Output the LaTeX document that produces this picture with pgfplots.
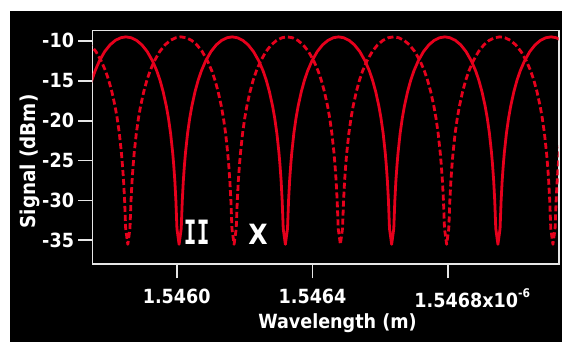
\documentclass[border=0pt]{standalone}
\usepackage{pgfplots}
\pgfplotsset{compat=1.18}
\usepackage{fontspec}
\setmainfont{DejaVu Sans}[BoldFeatures={FakeStretch=0.9}]
\newfontfamily\monofontb{DejaVu Sans Mono}
\definecolor{curvered}{RGB}{230,0,28}
\definecolor{framegray}{RGB}{230,230,230}
\begin{document}
\begin{tikzpicture}
\path[use as bounding box] (0bp,0bp) rectangle (562bp,342bp);
\fill[white] (0bp,0bp) rectangle (562bp,342bp);
\fill[black] (10bp,0bp) rectangle (562bp,331bp);
\begin{axis}[
  at={(92.5bp,77.7bp)}, anchor=south west,
  scale only axis, width=466.2bp, height=233.8bp,
  xmin=-248, xmax=1125, ymin=-38, ymax=-8.7,
  axis line style={framegray, line width=1.8bp},
  tick style={framegray, line width=1.8bp},
  tick align=outside, major tick length=14bp,
  xtick pos=bottom, ytick pos=left,
  xtick={0,400,800},
  xticklabels={1.5460,1.5464,{1.5468\rlap{x10\raisebox{0.5em}{\fontsize{12}{12}\selectfont -6}}}},
  ytick={-35,-30,-25,-20,-15,-10},
  yticklabels={-35,-30,-25,-20,-15,-10},
  ticklabel style={font=\bfseries\fontsize{19.6}{23}\selectfont, text=white},
  yticklabel style={xshift=-1bp},
  xticklabel style={yshift=-7bp},
  clip=true,
]
\addplot[curvered, line width=2.8bp, line join=round] coordinates {
(-268.4,-18.18) (-259.0,-16.36) (-249.7,-14.92) (-240.3,-13.75) (-227.7,-12.51) (-212.1,-11.34) (-196.4,-10.50) (-180.8,-9.94) (-165.1,-9.61) (-149.5,-9.50) (-133.9,-9.61) (-118.2,-9.94) (-102.6,-10.50) (-86.9,-11.34) (-71.3,-12.51) (-58.7,-13.75) (-49.3,-14.92) (-40.0,-16.36) (-30.6,-18.18) (-24.3,-19.70) (-18.0,-21.59) (-11.8,-24.05) (-8.7,-25.61) (-5.5,-27.54) (-2.4,-30.03) (0.7,-33.54)
(7,-35.5) (13.3,-33.54) (16.4,-30.03) (19.5,-27.54) (22.7,-25.61) (25.8,-24.05) (32.0,-21.59) (38.3,-19.70) (44.6,-18.18) (54.0,-16.36) (63.3,-14.92) (72.7,-13.75) (85.3,-12.51) (100.9,-11.34) (116.6,-10.50) (132.2,-9.94) (147.9,-9.61) (163.5,-9.50) (179.1,-9.61) (194.8,-9.94) (210.4,-10.50) (226.1,-11.34) (241.7,-12.51) (254.3,-13.75) (263.7,-14.92) (273.0,-16.36) (282.4,-18.18) (288.7,-19.70) (295.0,-21.59) (301.2,-24.05) (304.3,-25.61) (307.5,-27.54) (310.6,-30.03) (313.7,-33.54)
(320,-35.5) (326.3,-33.54) (329.4,-30.03) (332.5,-27.54) (335.7,-25.61) (338.8,-24.05) (345.0,-21.59) (351.3,-19.70) (357.6,-18.18) (367.0,-16.36) (376.3,-14.92) (385.7,-13.75) (398.3,-12.51) (413.9,-11.34) (429.6,-10.50) (445.2,-9.94) (460.9,-9.61) (476.5,-9.50) (492.1,-9.61) (507.8,-9.94) (523.4,-10.50) (539.1,-11.34) (554.7,-12.51) (567.3,-13.75) (576.7,-14.92) (586.0,-16.36) (595.4,-18.18) (601.7,-19.70) (608.0,-21.59) (614.2,-24.05) (617.3,-25.61) (620.5,-27.54) (623.6,-30.03) (626.7,-33.54)
(633,-35.5) (639.3,-33.54) (642.4,-30.03) (645.5,-27.54) (648.7,-25.61) (651.8,-24.05) (658.0,-21.59) (664.3,-19.70) (670.6,-18.18) (680.0,-16.36) (689.3,-14.92) (698.7,-13.75) (711.3,-12.51) (726.9,-11.34) (742.6,-10.50) (758.2,-9.94) (773.9,-9.61) (789.5,-9.50) (805.1,-9.61) (820.8,-9.94) (836.4,-10.50) (852.1,-11.34) (867.7,-12.51) (880.3,-13.75) (889.7,-14.92) (899.0,-16.36) (908.4,-18.18) (914.7,-19.70) (921.0,-21.59) (927.2,-24.05) (930.3,-25.61) (933.5,-27.54) (936.6,-30.03) (939.7,-33.54)
(946,-35.5) (952.3,-33.54) (955.4,-30.03) (958.5,-27.54) (961.7,-25.61) (964.8,-24.05) (971.0,-21.59) (977.3,-19.70) (983.6,-18.18) (993.0,-16.36) (1002.3,-14.92) (1011.7,-13.75) (1024.3,-12.51) (1039.9,-11.34) (1055.6,-10.50) (1071.2,-9.94) (1086.9,-9.61) (1102.5,-9.50) (1118.1,-9.61) (1133.8,-9.94)
};
\addplot[curvered, line width=2.8bp, line join=round, dash pattern=on 6bp off 3bp] coordinates {
(-284.9,-9.61) (-269.2,-9.94) (-253.6,-10.50) (-237.9,-11.34) (-222.3,-12.51) (-209.7,-13.75) (-200.3,-14.92) (-191.0,-16.36) (-181.6,-18.18) (-175.3,-19.70) (-169.0,-21.59) (-162.8,-24.05) (-159.7,-25.61) (-156.5,-27.54) (-153.4,-30.03) (-150.3,-33.54)
(-144,-35.5) (-137.7,-33.54) (-134.6,-30.03) (-131.5,-27.54) (-128.3,-25.61) (-125.2,-24.05) (-119.0,-21.59) (-112.7,-19.70) (-106.4,-18.18) (-97.0,-16.36) (-87.7,-14.92) (-78.3,-13.75) (-65.7,-12.51) (-50.1,-11.34) (-34.4,-10.50) (-18.8,-9.94) (-3.1,-9.61) (12.5,-9.50) (28.1,-9.61) (43.8,-9.94) (59.4,-10.50) (75.1,-11.34) (90.7,-12.51) (103.3,-13.75) (112.7,-14.92) (122.0,-16.36) (131.4,-18.18) (137.7,-19.70) (144.0,-21.59) (150.2,-24.05) (153.3,-25.61) (156.5,-27.54) (159.6,-30.03) (162.7,-33.54)
(169,-35.5) (175.3,-33.54) (178.4,-30.03) (181.5,-27.54) (184.7,-25.61) (187.8,-24.05) (194.0,-21.59) (200.3,-19.70) (206.6,-18.18) (216.0,-16.36) (225.3,-14.92) (234.7,-13.75) (247.3,-12.51) (262.9,-11.34) (278.6,-10.50) (294.2,-9.94) (309.9,-9.61) (325.5,-9.50) (341.1,-9.61) (356.8,-9.94) (372.4,-10.50) (388.1,-11.34) (403.7,-12.51) (416.3,-13.75) (425.7,-14.92) (435.0,-16.36) (444.4,-18.18) (450.7,-19.70) (457.0,-21.59) (463.2,-24.05) (466.3,-25.61) (469.5,-27.54) (472.6,-30.03) (475.7,-33.54)
(482,-35.5) (488.3,-33.54) (491.4,-30.03) (494.5,-27.54) (497.7,-25.61) (500.8,-24.05) (507.0,-21.59) (513.3,-19.70) (519.6,-18.18) (529.0,-16.36) (538.3,-14.92) (547.7,-13.75) (560.3,-12.51) (575.9,-11.34) (591.6,-10.50) (607.2,-9.94) (622.9,-9.61) (638.5,-9.50) (654.1,-9.61) (669.8,-9.94) (685.4,-10.50) (701.1,-11.34) (716.7,-12.51) (729.3,-13.75) (738.7,-14.92) (748.0,-16.36) (757.4,-18.18) (763.7,-19.70) (770.0,-21.59) (776.2,-24.05) (779.3,-25.61) (782.5,-27.54) (785.6,-30.03) (788.7,-33.54)
(795,-35.5) (801.3,-33.54) (804.4,-30.03) (807.5,-27.54) (810.7,-25.61) (813.8,-24.05) (820.0,-21.59) (826.3,-19.70) (832.6,-18.18) (842.0,-16.36) (851.3,-14.92) (860.7,-13.75) (873.3,-12.51) (888.9,-11.34) (904.6,-10.50) (920.2,-9.94) (935.9,-9.61) (951.5,-9.50) (967.1,-9.61) (982.8,-9.94) (998.4,-10.50) (1014.1,-11.34) (1029.7,-12.51) (1042.3,-13.75) (1051.7,-14.92) (1061.0,-16.36) (1070.4,-18.18) (1076.7,-19.70) (1083.0,-21.59) (1089.2,-24.05) (1092.3,-25.61) (1095.5,-27.54) (1098.6,-30.03) (1101.7,-33.54)
(1108,-35.5) (1114.3,-33.54) (1117.4,-30.03) (1120.5,-27.54) (1123.7,-25.61) (1126.8,-24.05) (1133.0,-21.59)
};
\node[text=white, font=\monofontb\bfseries\fontsize{32}{32}\selectfont, inner sep=0pt] at (axis cs:59,-34.0) {\scalebox{0.66}[1.05]{I}\kern0.5bp\scalebox{0.66}[1.05]{I}};
\node[text=white, font=\bfseries\fontsize{28}{28}\selectfont, inner sep=0pt] at (axis cs:239.5,-34.3) {X};
\end{axis}
\node[rotate=90, text=white, font=\bfseries\fontsize{20.5}{24}\selectfont, inner sep=0pt] at (30bp,180.5bp) {Signal (dBm)};
\node[text=white, font=\bfseries\fontsize{19.6}{24}\selectfont, inner sep=0pt] at (337.5bp,19bp) {Wavelength (m)};
\end{tikzpicture}
\end{document}
